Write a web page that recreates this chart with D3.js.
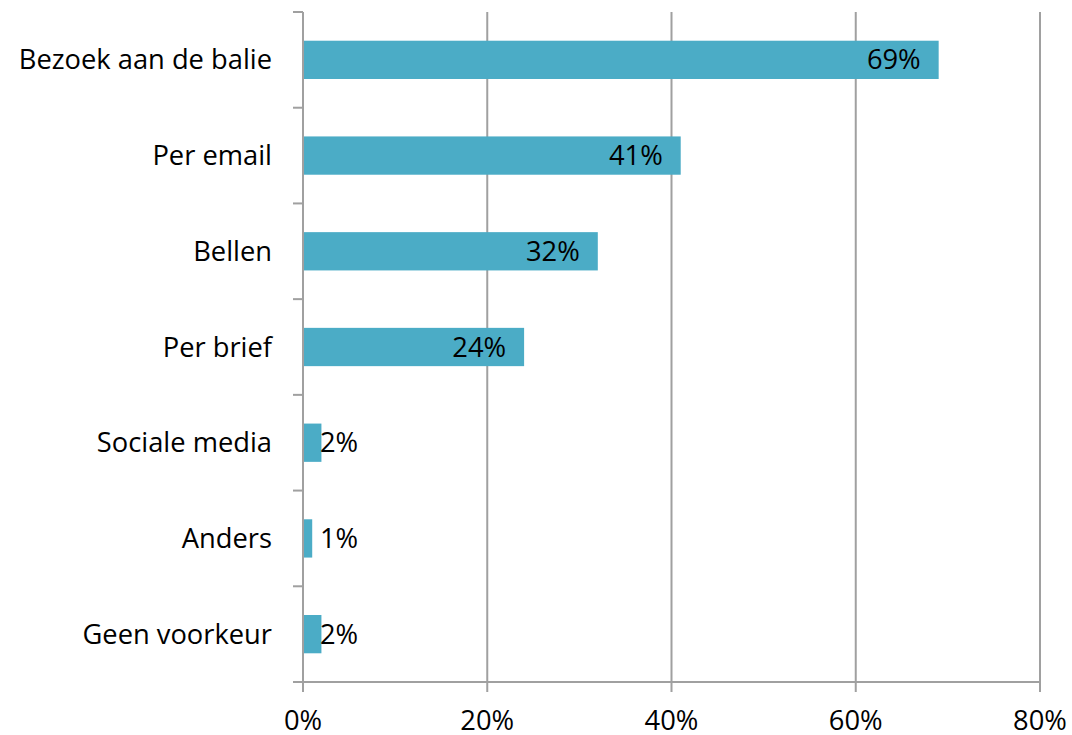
<!DOCTYPE html>
<html><head><meta charset="utf-8">
<script src="https://cdn.jsdelivr.net/npm/d3@7"></script>
<style>body{margin:0;background:#fff}svg{display:block}text{font-family:"Open Sans","Noto Sans",sans-serif}</style>
</head><body>
<svg id="c" width="1072" height="735"></svg>
<script>
const categories = ["Bezoek aan de balie","Per email","Bellen","Per brief","Sociale media","Anders","Geen voorkeur"];
const values = [69,41,32,24,2,1,2];
const xTicks = [0,20,40,60,80];

(function(){
const svg = d3.select("#c");
const pL = 303, pR = 1040, pT = 12, pB = 682;
const fs = 27.3;
const x = d3.scaleLinear().domain([0,80]).range([pL,pR]);
const y = d3.scaleBand().domain(categories).range([pT,pB]).paddingInner(0.6).paddingOuter(0.3);
const grid = "#a0a0a0";

svg.append("g").selectAll("line").data(xTicks.slice(1)).join("line")
  .attr("x1",d=>x(d)).attr("x2",d=>x(d)).attr("y1",pT).attr("y2",pB+10)
  .attr("stroke",grid).attr("stroke-width",2);

svg.append("g").selectAll("rect").data(values).join("rect")
  .attr("x",x(0)).attr("y",(d,i)=>y(categories[i]))
  .attr("width",d=>x(d)-x(0)).attr("height",y.bandwidth())
  .attr("fill","#4BACC6");

const yAxisG = svg.append("g");
yAxisG.append("line").attr("x1",pL).attr("x2",pL).attr("y1",pT).attr("y2",pB+10).attr("stroke",grid).attr("stroke-width",2);
const step = (pB-pT)/categories.length;
yAxisG.selectAll("line.t").data(d3.range(categories.length+1)).join("line").attr("class","t")
  .attr("x1",pL-10).attr("x2",pL).attr("y1",d=>pT+d*step).attr("y2",d=>pT+d*step)
  .attr("stroke",grid).attr("stroke-width",2);
yAxisG.selectAll("text").data(categories).join("text")
  .attr("x",pL-31).attr("y",d=>y(d)+y.bandwidth()/2).attr("dy","0.35em")
  .attr("text-anchor","end").attr("font-size",fs).attr("fill","#000").text(d=>d);

const xAxisG = svg.append("g");
xAxisG.append("line").attr("x1",pL).attr("x2",pR).attr("y1",pB).attr("y2",pB).attr("stroke",grid).attr("stroke-width",2);
xAxisG.selectAll("text").data(xTicks).join("text")
  .attr("x",d=>x(d)).attr("y",720).attr("dy","0.35em").attr("text-anchor","middle")
  .attr("font-size",fs).attr("fill","#000").text(d=>d+"%");

const lab = svg.append("g").selectAll("text").data(values).join("text")
  .attr("y",(d,i)=>y(categories[i])+y.bandwidth()/2).attr("dy","0.35em")
  .attr("font-size",fs).attr("fill","#000").text(d=>d+"%");
lab.each(function(d){
  const w = this.getComputedTextLength();
  const sx = Math.max(x(d)-18-w, pL+17);
  d3.select(this).attr("x",sx);
});
})();
</script>
</body></html>
